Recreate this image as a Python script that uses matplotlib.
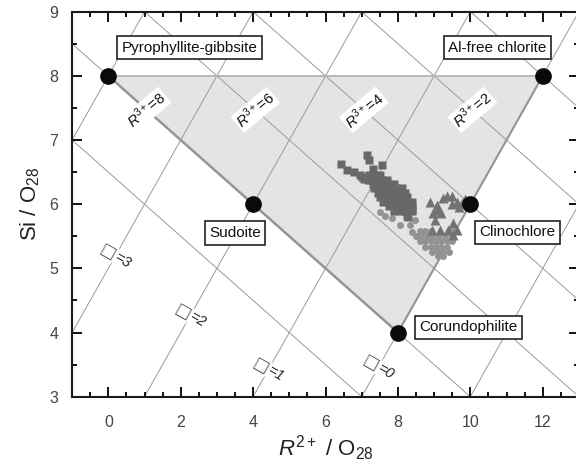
import numpy as np
import matplotlib
matplotlib.use("Agg")
import matplotlib.pyplot as plt
from matplotlib.patches import Polygon
from matplotlib.ticker import MultipleLocator

plt.rcParams['font.family'] = ['Liberation Sans', 'DejaVu Sans']
plt.rcParams['mathtext.fontset'] = 'custom'
plt.rcParams['mathtext.rm'] = 'Liberation Sans'
plt.rcParams['mathtext.it'] = 'Liberation Sans:italic'

# End-member compositions (R2+ per O28, Si per O28)
members = ["Pyrophyllite-gibbsite", "Al-free chlorite", "Sudoite", "Clinochlore", "Corundophilite"]
member_r2 = [0, 12, 4, 10, 8]
member_si = [8, 8, 6, 6, 4]
label_x = [2.25, 10.75, 3.5, 11.3, 9.95]
label_y = [8.44, 8.44, 5.55, 5.56, 4.08]

# Iso-lines: total trivalent cations and octahedral vacancies
r3_levels = [0, 2, 4, 6, 8, 10]
r3_labelled = [2, 4, 6, 8]
vac_levels = [-1, 0, 1, 2, 3, 4]
vac_labels = [0, 1, 2, 3]
vac_label_x = [7.46, 4.42, 2.26, 0.19]

# Analysed chlorites
sq_r2 = [7.14, 7.21, 6.42, 6.60, 6.79, 6.95, 7.32, 7.55, 7.05, 7.18, 7.00,
         7.20, 7.35, 7.50,
         7.25, 7.40, 7.55, 7.70,
         7.30, 7.45, 7.60, 7.75, 7.90,
         7.35, 7.50, 7.65, 7.80, 7.95, 8.10,
         7.45, 7.60, 7.75, 7.90, 8.05, 8.20,
         7.50, 7.65, 7.80, 7.95, 8.10, 8.25,
         7.60, 7.75, 7.90, 8.05, 8.20, 8.40,
         7.75, 7.90, 8.05, 8.20, 8.40,
         7.90, 8.05, 8.20, 8.40,
         8.25, 8.29, 8.38, 8.28]
sq_si = [6.77, 6.69, 6.62, 6.53, 6.50, 6.46, 6.55, 6.61, 6.40, 6.38, 6.43,
         6.45, 6.45, 6.45,
         6.38, 6.38, 6.38, 6.38,
         6.32, 6.32, 6.32, 6.32, 6.32,
         6.25, 6.25, 6.25, 6.25, 6.25, 6.25,
         6.18, 6.18, 6.18, 6.18, 6.18, 6.18,
         6.11, 6.11, 6.11, 6.11, 6.11, 6.11,
         6.04, 6.04, 6.04, 6.04, 6.04, 6.04,
         5.97, 5.97, 5.97, 5.97, 5.97,
         5.90, 5.90, 5.90, 5.90,
         5.82, 5.99, 5.91, 5.80]

tri_r2 = [8.89, 9.07, 9.25, 9.48, 9.62, 9.76, 9.50, 9.07, 9.20, 8.98, 9.02,
          8.93, 9.16, 9.39, 9.53, 9.62, 9.53, 9.35, 9.85, 9.70]
tri_si = [6.04, 5.99, 6.09, 6.12, 6.04, 6.02, 6.00, 5.91, 5.86, 5.86, 5.75,
          5.60, 5.60, 5.60, 5.70, 5.60, 5.52, 6.12, 6.08, 5.95]

ci_r2 = [7.51, 7.64, 7.83, 8.06, 8.33, 8.47, 8.38,
         8.60, 8.75, 8.90, 9.45, 9.55,
         8.50, 8.65, 8.80, 8.95, 9.10, 9.30, 9.50,
         8.60, 8.75, 8.90, 9.05, 9.20, 9.35, 9.50,
         8.75, 8.90, 9.05, 9.20, 9.35,
         8.95, 9.10, 9.25, 9.40,
         9.10, 9.25]
ci_si = [5.88, 5.81, 5.78, 5.68, 5.68, 5.75, 5.57,
         5.58, 5.58, 5.58, 5.58, 5.58,
         5.50, 5.50, 5.50, 5.50, 5.50, 5.50, 5.50,
         5.42, 5.42, 5.42, 5.42, 5.42, 5.42, 5.42,
         5.34, 5.34, 5.34, 5.34, 5.34,
         5.26, 5.26, 5.26, 5.26,
         5.19, 5.19]

fig = plt.figure(figsize=(5.76, 4.67), dpi=100)
ax = fig.add_axes([0.1252, 0.1505, 0.8799, 0.8245])
ax.set_xlim(-1, 13)
ax.set_ylim(3, 9)

xs = np.array([-1.0, 13.0])
line_kw = dict(color='#9a9a9a', lw=0.7, zorder=1)
# Constant R3+: Si = 14 - 0.75 R3 - 0.5 R2
for r3 in r3_levels:
    ax.plot(xs, 14 - 0.75 * r3 - 0.5 * xs, **line_kw)
# Constant vacancy: Si = R2 + 3 vac - 4
for v in vac_levels:
    ax.plot(xs, xs + 3 * v - 4, **line_kw)

# Chlorite field
tri = Polygon([(member_r2[0], member_si[0]), (member_r2[1], member_si[1]),
               (member_r2[4], member_si[4])], closed=True,
              facecolor='#e4e4e4', edgecolor='none', zorder=0.5)
ax.add_patch(tri)
ax.plot([0, 12], [8, 8], color='#b4b4b4', lw=1.3, zorder=2)
ax.plot([0, 8], [8, 4], color='#959595', lw=1.8, zorder=2)
ax.plot([12, 8], [8, 4], color='#959595', lw=1.5, zorder=2)

# Iso-line labels
for r3 in r3_labelled:
    yl = 7.47
    xl = 2 * (14 - 0.75 * r3 - yl)
    ax.text(xl, yl, r'$R^{3+}$=%d' % r3, rotation=40, ha='center', va='center',
            fontsize=10.5, color='#111111', zorder=3,
            bbox=dict(facecolor='white', edgecolor='none', pad=0.8))

# Vacancy labels: an open square followed by an italic "=n", along the
# direction perpendicular to the vacancy lines
ang = -29.4
ux, uy = np.cos(np.radians(ang)), np.sin(np.radians(ang))
for v, xl in zip(vac_labels, vac_label_x):
    yl = xl + 3 * v - 4
    ax.annotate('\u25a1', (xl, yl), xytext=(-6 * ux, -6 * uy),
                textcoords='offset points', rotation=ang, ha='center',
                va='center', fontsize=12, color='#555555', zorder=3,
                family=['DejaVu Sans'],
                bbox=dict(facecolor='white', edgecolor='none', pad=0.3))
    ax.annotate('=%d' % v, (xl, yl), xytext=(6 * ux, 6 * uy),
                textcoords='offset points', rotation=ang, ha='center',
                va='center', fontsize=10.5, color='#222222', style='italic',
                zorder=3,
                bbox=dict(facecolor='white', edgecolor='none', pad=0.3))

# Data points
ax.plot(ci_r2, ci_si, 'o', ms=5, color='#939393', mec='none', zorder=4)
ax.plot(sq_r2, sq_si, 's', ms=5.6, color='#686868', mec='none', zorder=4)
ax.plot(tri_r2, tri_si, '^', ms=7, color='#727272', mec='none', zorder=4)

# End members
ax.plot(member_r2, member_si, 'o', ms=11, color='#0a0a0a', zorder=5)
for name, lx, ly in zip(members, label_x, label_y):
    ax.text(lx, ly, name, ha='center', va='center', fontsize=11, color='#111111',
            zorder=6, bbox=dict(boxstyle='square,pad=0.3', facecolor='white',
                                edgecolor='#222222', lw=1.2))

ax.xaxis.set_major_locator(MultipleLocator(2))
ax.xaxis.set_minor_locator(MultipleLocator(0.5))
ax.yaxis.set_major_locator(MultipleLocator(1))
ax.yaxis.set_minor_locator(MultipleLocator(0.5))
ax.tick_params(which='both', direction='in', top=True, right=True,
               labelsize=11.5, labelcolor='#444444', width=1.3)
ax.tick_params(axis='x', which='major', pad=13)
ax.tick_params(axis='y', which='major', pad=10)
ax.tick_params(which='major', length=7)
ax.tick_params(which='minor', length=3.5)
for s in ax.spines.values():
    s.set_linewidth(1.5)
    s.set_color('#1a1a1a')

ax.set_xlabel(r'$R^{2+}$ / O$_{28}$', fontsize=16, color='#222222', labelpad=3)
ax.set_ylabel(r'Si / O$_{28}$', fontsize=16, color='#222222', labelpad=5)

fig.savefig('out.png', dpi=100)
